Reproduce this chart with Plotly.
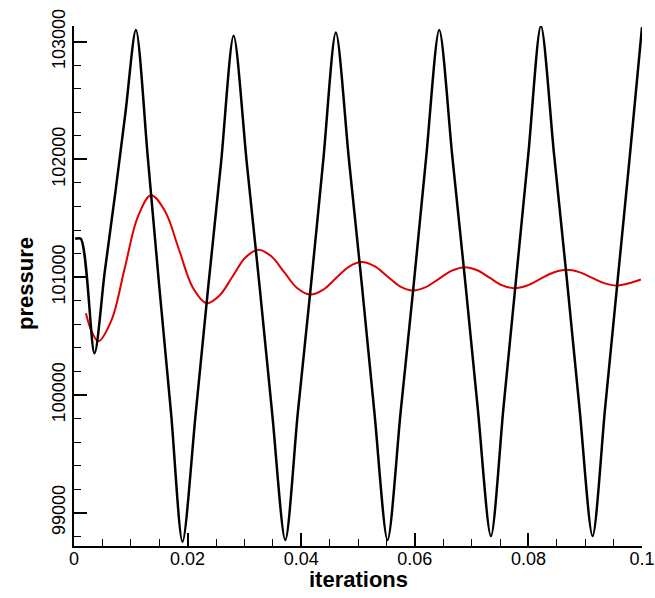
import plotly.graph_objects as go

# Black series: pressure
black_x = [0.0002, 0.0012, 0.0036, 0.0054, 0.0073, 0.0091, 0.0109,
           0.0130, 0.0150, 0.0171, 0.0191,
           0.0214, 0.0236, 0.0259, 0.0281,
           0.0304, 0.0327, 0.0349, 0.0372,
           0.0394, 0.0417, 0.0439, 0.0461,
           0.0484, 0.0507, 0.0529, 0.0552,
           0.0575, 0.0598, 0.0620, 0.0643,
           0.0666, 0.0689, 0.0711, 0.0734,
           0.0756, 0.0778, 0.0800, 0.0822,
           0.0845, 0.0868, 0.0890, 0.0913,
           0.0935, 0.0957, 0.0979, 0.1000]
black_y = [101326, 101326, 100354, 101040, 101727, 102413, 103100,
           102013, 100927, 99840, 98753,
           99828, 100902, 101977, 103051,
           101980, 100910, 99839, 98768,
           99845, 100923, 102000, 103077,
           102000, 100923, 99845, 98768,
           99851, 100934, 102017, 103100,
           102026, 100951, 99877, 98802,
           99885, 100968, 102051, 103134,
           102051, 100968, 99885, 98802,
           99885, 100968, 102051, 103123]

# Red series
red_x = [0.0021, 0.0031, 0.0043,
         0.00662, 0.00893, 0.01125, 0.01356,
         0.01601, 0.01846, 0.02091, 0.02336,
         0.02563, 0.02791, 0.03018, 0.03245,
         0.03473, 0.03700, 0.03928, 0.04155,
         0.04383, 0.04610, 0.04838, 0.05065,
         0.05290, 0.05514, 0.05739, 0.05963,
         0.06193, 0.06424, 0.06654, 0.06884,
         0.07100, 0.07315, 0.07531, 0.07746,
         0.07978, 0.08210, 0.08442, 0.08674,
         0.08894, 0.09114, 0.09334, 0.09554,
         0.09770, 0.09980]
red_y = [100694, 100540, 100456,
         100637, 101076, 101514, 101695,
         101561, 101237, 100913, 100779,
         100845, 101006, 101167, 101233,
         101177, 101043, 100908, 100852,
         100892, 100990, 101088, 101128,
         101093, 101008, 100922, 100887,
         100916, 100986, 101056, 101085,
         101059, 100996, 100932, 100906,
         100929, 100985, 101040, 101063,
         101043, 100996, 100949, 100929,
         100948, 100980]

x_range = [0, 0.1]
y_range = [98717, 103133]

fig = go.Figure()
fig.add_trace(go.Scatter(x=red_x, y=red_y, mode="lines",
                         line=dict(color="#e00000", width=2, shape="spline", smoothing=1.0),
                         showlegend=False))
fig.add_trace(go.Scatter(x=black_x, y=black_y, mode="lines",
                         line=dict(color="black", width=2.5, shape="spline", smoothing=0.8),
                         showlegend=False))

font_family = "Liberation Sans, Arial, Helvetica, sans-serif"

fig.update_layout(
    width=655, height=598,
    margin=dict(l=74, r=13, t=26, b=52, autoexpand=False),
    paper_bgcolor="white", plot_bgcolor="white",
    font=dict(family=font_family, size=18, color="black"),
    xaxis=dict(range=x_range, dtick=0.02, tick0=0, automargin=False,
               showline=True, linewidth=2, linecolor="black",
               ticks="inside", ticklen=13, tickwidth=2, tickcolor="black",
               ticklabelstandoff=-5,
               showgrid=False, zeroline=False,
               minor=dict(ticks="inside", ticklen=7, tickwidth=1, tickcolor="black", dtick=0.005),
               tickfont=dict(size=18, family=font_family)),
    yaxis=dict(range=y_range, dtick=1000, tick0=99000, tickformat="d", automargin=False,
               showline=True, linewidth=2, linecolor="black",
               ticks="inside", ticklen=13, tickwidth=2, tickcolor="black",
               showgrid=False, zeroline=False, tickangle=-90,
               minor=dict(ticks="inside", ticklen=7, tickwidth=1, tickcolor="black", dtick=200),
               tickfont=dict(size=18, family=font_family)),
    annotations=[
        dict(text="<b>iterations</b>", xref="paper", yref="paper", x=0.5, y=-0.0635,
             xanchor="center", yanchor="middle", showarrow=False,
             font=dict(size=22, family=font_family, color="black")),
        dict(text="<b>pressure</b>", xref="paper", yref="paper", x=-0.0854, y=0.505,
             xanchor="center", yanchor="middle", showarrow=False, textangle=-90,
             font=dict(size=22, family=font_family, color="black")),
    ],
)

fig.write_html("out.html")
